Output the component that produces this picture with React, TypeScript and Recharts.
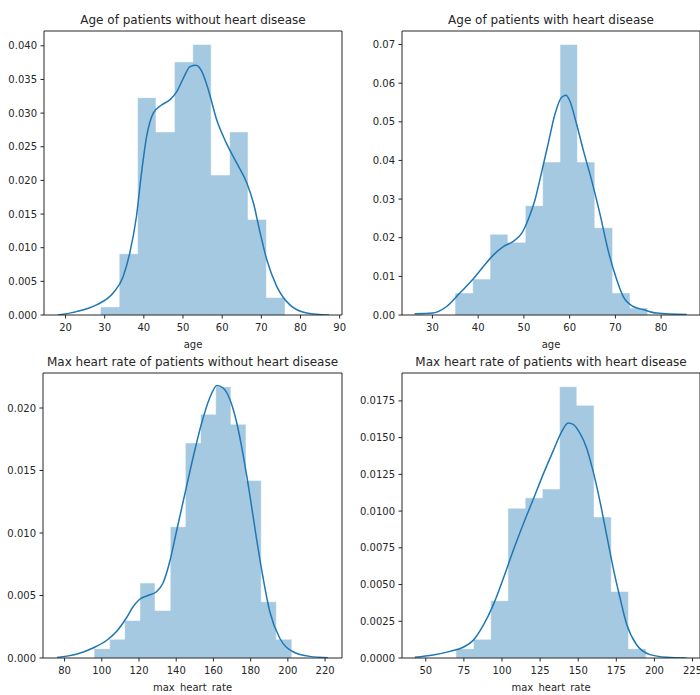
import React from 'react';
import { ComposedChart, Area, Line, XAxis, YAxis } from 'recharts';

// ---- Age, no heart disease ----
const ageNoEdges = [29, 33.7, 38.4, 43.1, 47.8, 52.5, 57.2, 61.9, 66.6, 71.3, 76];
const ageNoHeights = [0.0012, 0.0091, 0.0323, 0.0272, 0.0376, 0.0402, 0.0208, 0.0272, 0.0142, 0.0026];
const ageNoKde = [
  { x: 18, y: 0 }, { x: 22.8, y: 0.0005 }, { x: 27.9, y: 0.0015 }, { x: 32.2, y: 0.0033 },
  { x: 34.7, y: 0.0057 }, { x: 36.4, y: 0.0092 }, { x: 38.1, y: 0.0146 }, { x: 39.4, y: 0.0211 },
  { x: 40.7, y: 0.0265 }, { x: 42.4, y: 0.030 }, { x: 44.5, y: 0.0312 }, { x: 46.7, y: 0.032 },
  { x: 48.4, y: 0.0332 }, { x: 50.1, y: 0.0352 }, { x: 51.8, y: 0.0369 }, { x: 53.3, y: 0.0371 },
  { x: 54.8, y: 0.0362 }, { x: 56.5, y: 0.0334 }, { x: 58.6, y: 0.029 }, { x: 61.1, y: 0.0255 },
  { x: 63.7, y: 0.0226 }, { x: 66.3, y: 0.0196 }, { x: 68.0, y: 0.0166 }, { x: 69.7, y: 0.0122 },
  { x: 71.4, y: 0.0082 }, { x: 73.9, y: 0.0043 }, { x: 77.3, y: 0.0015 }, { x: 81.6, y: 0.0003 },
  { x: 87.3, y: 0 },
];
const ageNoXTicks = [20, 30, 40, 50, 60, 70, 80, 90];
const ageNoYTicks = [0, 0.005, 0.01, 0.015, 0.02, 0.025, 0.03, 0.035, 0.04];

// ---- Age, heart disease ----
const ageYesEdges = [35, 38.8, 42.6, 46.5, 50.3, 54.1, 57.9, 61.7, 65.5, 69.4, 73.2, 77];
const ageYesHeights = [0.0057, 0.0093, 0.0209, 0.0188, 0.0283, 0.0396, 0.07, 0.0396, 0.0226, 0.0057, 0.0018];
const ageYesKde = [
  { x: 26.1, y: 0.0003 }, { x: 30.1, y: 0.0005 }, { x: 33.1, y: 0.0022 }, { x: 36.0, y: 0.0057 },
  { x: 38.9, y: 0.0093 }, { x: 41.1, y: 0.0125 }, { x: 43.3, y: 0.0155 }, { x: 45.5, y: 0.0177 },
  { x: 47.6, y: 0.019 }, { x: 49.5, y: 0.0211 }, { x: 50.9, y: 0.0246 }, { x: 52.4, y: 0.0297 },
  { x: 53.8, y: 0.0366 }, { x: 55.3, y: 0.0443 }, { x: 56.8, y: 0.052 }, { x: 58.2, y: 0.0563 },
  { x: 59.2, y: 0.0569 }, { x: 60.0, y: 0.0555 }, { x: 61.5, y: 0.0495 }, { x: 63.0, y: 0.0426 },
  { x: 64.8, y: 0.0349 }, { x: 66.6, y: 0.0263 }, { x: 68.4, y: 0.0168 }, { x: 70.3, y: 0.0091 },
  { x: 71.7, y: 0.0048 }, { x: 73.9, y: 0.0022 }, { x: 76.1, y: 0.0014 }, { x: 79.0, y: 0.0005 },
  { x: 85.6, y: 0.0001 },
];
const ageYesXTicks = [30, 40, 50, 60, 70, 80];
const ageYesYTicks = [0, 0.01, 0.02, 0.03, 0.04, 0.05, 0.06, 0.07];

// ---- Max heart rate, no heart disease ----
const hrNoEdges = [96, 104.2, 112.3, 120.5, 128.6, 136.8, 144.9, 153.1, 161.2, 169.4, 177.5, 185.7, 193.8, 202];
const hrNoHeights = [0.00075, 0.0015, 0.003, 0.006, 0.0038, 0.0105, 0.0172, 0.0195, 0.0217, 0.0187, 0.0142, 0.0045, 0.0015];
const hrNoKde = [
  { x: 75.9, y: 0.00005 }, { x: 86.3, y: 0.0003 }, { x: 95.3, y: 0.0008 }, { x: 102.5, y: 0.0014 },
  { x: 107.8, y: 0.0021 }, { x: 113.2, y: 0.0032 }, { x: 116.8, y: 0.0041 }, { x: 120.4, y: 0.0047 },
  { x: 124.8, y: 0.005 }, { x: 129.4, y: 0.0053 }, { x: 132.9, y: 0.006 }, { x: 136.5, y: 0.0077 },
  { x: 140.1, y: 0.0101 }, { x: 144.6, y: 0.0131 }, { x: 149.0, y: 0.016 }, { x: 153.5, y: 0.0187 },
  { x: 158.0, y: 0.0208 }, { x: 161.9, y: 0.0218 }, { x: 165.2, y: 0.0216 }, { x: 168.8, y: 0.0207 },
  { x: 172.4, y: 0.0189 }, { x: 175.9, y: 0.0163 }, { x: 179.5, y: 0.0131 }, { x: 183.1, y: 0.0096 },
  { x: 186.7, y: 0.0064 }, { x: 190.3, y: 0.0037 }, { x: 195.6, y: 0.0016 }, { x: 202.8, y: 0.0005 },
  { x: 211.8, y: 0.00013 }, { x: 221.6, y: 0.00003 },
];
const hrNoXTicks = [80, 100, 120, 140, 160, 180, 200, 220];
const hrNoYTicks = [0, 0.005, 0.01, 0.015, 0.02];

// ---- Max heart rate, heart disease ----
const hrYesEdges = [70, 81.3, 92.6, 103.9, 115.2, 126.5, 137.8, 149.1, 160.4, 171.7, 183, 194.3];
const hrYesHeights = [0.00063, 0.00127, 0.0039, 0.0102, 0.0109, 0.0115, 0.01847, 0.0172, 0.0096, 0.00453, 0.00063];
const hrYesKde = [
  { x: 42.8, y: 0.00005 }, { x: 54.8, y: 0.0002 }, { x: 65.8, y: 0.00045 }, { x: 74.5, y: 0.00073 },
  { x: 81.1, y: 0.0012 }, { x: 87.6, y: 0.0022 }, { x: 94.2, y: 0.0036 }, { x: 100.8, y: 0.0054 },
  { x: 107.3, y: 0.0073 }, { x: 113.9, y: 0.0091 }, { x: 120.5, y: 0.0108 }, { x: 127.0, y: 0.0125 },
  { x: 133.6, y: 0.0141 }, { x: 139.1, y: 0.0154 }, { x: 143.4, y: 0.016 }, { x: 146.7, y: 0.0159 },
  { x: 151.1, y: 0.0153 }, { x: 155.5, y: 0.0143 }, { x: 159.8, y: 0.0127 }, { x: 164.2, y: 0.0107 },
  { x: 168.6, y: 0.0084 }, { x: 173.0, y: 0.0061 }, { x: 177.4, y: 0.0041 }, { x: 181.8, y: 0.0023 },
  { x: 188.3, y: 0.0009 }, { x: 197.1, y: 0.00023 }, { x: 208.0, y: 0.00005 }, { x: 221.2, y: 0 },
];
const hrYesXTicks = [50, 75, 100, 125, 150, 175, 200, 225];
const hrYesYTicks = [0, 0.0025, 0.005, 0.0075, 0.01, 0.0125, 0.015, 0.0175];

const BLUE = '#1f77b4';
const INK = '#262626';
const FONT = '"DejaVu Sans", sans-serif';

type PanelProps = {
  title: string;
  xLabel: string;
  edges: number[];
  heights: number[];
  kde: { x: number; y: number }[];
  xDomain: [number, number];
  yDomain: [number, number];
  xTicks: number[];
  yTicks: number[];
  yDigits: number;
  left: number;
  top: number;
  width: number;
  height: number;
  margin: { top: number; right: number; bottom: number; left: number };
  yAxisWidth: number;
};

const Panel = (p: PanelProps) => {
  // stepAfter area: one point per bin edge, last edge repeats the last height
  const hist = p.edges.map((x, i) => ({ x, h: p.heights[Math.min(i, p.heights.length - 1)] }));
  const tickStyle = { fontSize: 10, fill: INK, fontFamily: FONT };
  return (
    <div style={{ position: 'absolute', left: p.left, top: p.top }}>
      <ComposedChart width={p.width} height={p.height} margin={p.margin}>
        <XAxis
          xAxisId="b"
          type="number"
          dataKey="x"
          domain={p.xDomain}
          allowDataOverflow
          ticks={p.xTicks}
          interval={0}
          tick={tickStyle}
          tickSize={3.5}
          tickMargin={5.5}
          height={35}
          stroke={INK}
          label={{ value: p.xLabel, position: 'insideBottom', offset: 2, fontSize: 10, fill: INK, fontFamily: FONT, style: { wordSpacing: 2 } }}
        />
        <XAxis
          xAxisId="t"
          orientation="top"
          type="number"
          dataKey="x"
          domain={p.xDomain}
          allowDataOverflow
          ticks={p.xTicks}
          tick={false}
          tickLine={false}
          height={1}
          stroke={INK}
          label={{ value: p.title, position: 'top', offset: 6, fontSize: 12, fill: INK, fontFamily: FONT }}
        />
        <YAxis
          yAxisId="l"
          type="number"
          domain={p.yDomain}
          allowDataOverflow
          ticks={p.yTicks}
          interval={0}
          tick={tickStyle}
          tickSize={3.5}
          tickMargin={3.5}
          tickFormatter={(v: number) => v.toFixed(p.yDigits)}
          width={p.yAxisWidth}
          stroke={INK}
        />
        <YAxis
          yAxisId="r"
          orientation="right"
          type="number"
          domain={p.yDomain}
          allowDataOverflow
          tick={false}
          tickLine={false}
          width={1}
          stroke={INK}
        />
        <Area
          xAxisId="b"
          yAxisId="l"
          data={hist}
          dataKey="h"
          type="stepAfter"
          fill={BLUE}
          fillOpacity={0.4}
          stroke="#ffffff"
          strokeOpacity={0.5}
          strokeWidth={1}
          isAnimationActive={false}
        />
        <Line
          xAxisId="b"
          yAxisId="l"
          data={p.kde}
          dataKey="y"
          type="monotone"
          stroke={BLUE}
          strokeWidth={1.5}
          dot={false}
          activeDot={false}
          isAnimationActive={false}
        />
      </ComposedChart>
    </div>
  );
};

export default function App() {
  return (
    <div
      style={{
        position: 'absolute',
        left: 0,
        top: 0,
        width: 700,
        height: 695,
        overflow: 'hidden',
        background: '#fff',
        fontFamily: FONT,
      }}
    >
      <Panel
        title="Age of patients without heart disease"
        xLabel="age"
        edges={ageNoEdges}
        heights={ageNoHeights}
        kde={ageNoKde}
        xDomain={[14.5, 90.6]}
        yDomain={[0, 0.0422]}
        xTicks={ageNoXTicks}
        yTicks={ageNoYTicks}
        yDigits={3}
        left={0}
        top={0}
        width={350}
        height={352}
        margin={{ top: 30, right: 7, bottom: 2, left: 4 }}
        yAxisWidth={40}
      />
      <Panel
        title="Age of patients with heart disease"
        xLabel="age"
        edges={ageYesEdges}
        heights={ageYesHeights}
        kde={ageYesKde}
        xDomain={[23.35, 88.5]}
        yDomain={[0, 0.0735]}
        xTicks={ageYesXTicks}
        yTicks={ageYesYTicks}
        yDigits={2}
        left={350}
        top={0}
        width={352}
        height={352}
        margin={{ top: 30, right: 1, bottom: 2, left: 4 }}
        yAxisWidth={48}
      />
      <Panel
        title="Max heart rate of patients without heart disease"
        xLabel="max heart rate"
        edges={hrNoEdges}
        heights={hrNoHeights}
        kde={hrNoKde}
        xDomain={[68.4, 229.1]}
        yDomain={[0, 0.0228]}
        xTicks={hrNoXTicks}
        yTicks={hrNoYTicks}
        yDigits={3}
        left={0}
        top={345}
        width={350}
        height={350}
        margin={{ top: 27, right: 7, bottom: 2, left: 3 }}
        yAxisWidth={40}
      />
      <Panel
        title="Max heart rate of patients with heart disease"
        xLabel="max heart rate"
        edges={hrYesEdges}
        heights={hrYesHeights}
        kde={hrYesKde}
        xDomain={[34.4, 229.9]}
        yDomain={[0, 0.0194]}
        xTicks={hrYesXTicks}
        yTicks={hrYesYTicks}
        yDigits={4}
        left={350}
        top={345}
        width={352}
        height={350}
        margin={{ top: 27, right: 1, bottom: 2, left: 4 }}
        yAxisWidth={48}
      />
    </div>
  );
}
